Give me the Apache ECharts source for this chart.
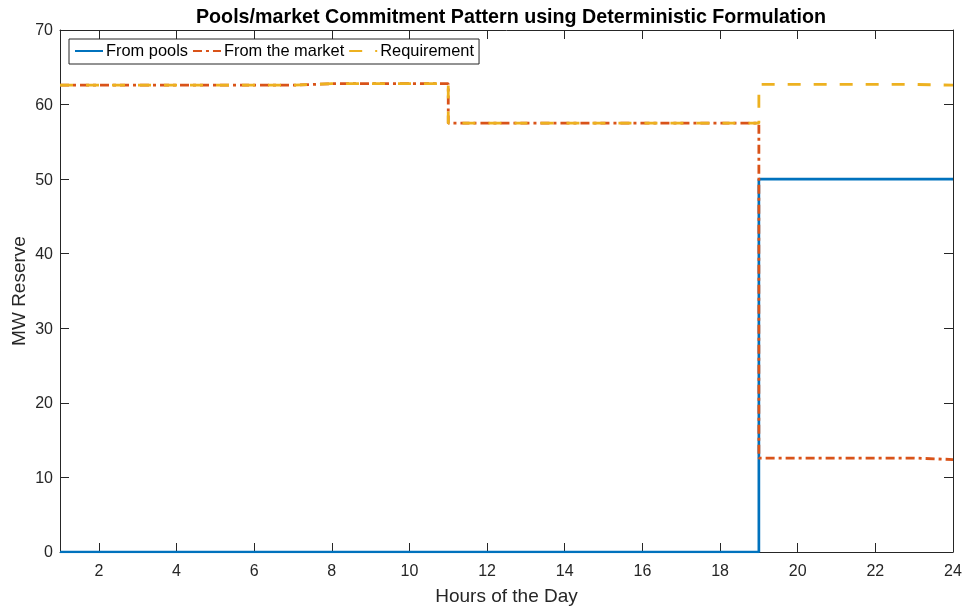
<!DOCTYPE html>
<html><head><meta charset="utf-8">
<script src="https://cdn.jsdelivr.net/npm/echarts@6/dist/echarts.min.js"></script>
<style>html,body{margin:0;padding:0;background:#fff}#c{width:967px;height:611px}</style>
</head><body><div id="c"></div>
<script>
const hours = [1,2,3,4,5,6,7,8,9,10,11,12,13,14,15,16,17,18,19,20,21,22,23,24];
const fromPools = [0,0,0,0,0,0,0,0,0,0,0,0,0,0,0,0,0,0,50,50,50,50,50,50];
const fromMarket = [62.6,62.6,62.6,62.6,62.6,62.6,62.8,62.8,62.8,62.8,57.5,57.5,57.5,57.5,57.5,57.5,57.5,57.5,12.6,12.6,12.6,12.6,12.4,12.4];
const requirement = [62.6,62.6,62.6,62.6,62.6,62.6,62.8,62.8,62.8,62.8,57.5,57.5,57.5,57.5,57.5,57.5,57.5,57.5,62.7,62.7,62.7,62.7,62.6,62.6];
const xTicks = [2,4,6,8,10,12,14,16,18,20,22,24];
const seriesNames = ['From pools','From the market','Requirement'];

const pair = arr => hours.map((h,i)=>[h,arr[i]]);
const txt = '#262626';
const font = 'Liberation Sans';
const chart = echarts.init(document.getElementById('c'));
chart.setOption({
  animation:false,
  textStyle:{fontFamily:font},
  title:{text:'Pools/market Commitment Pattern using Deterministic Formulation',left:506,textAlign:'center',top:3,
    textStyle:{fontFamily:font,fontWeight:'bold',fontSize:19.7,color:'#000'}},
  legend:{left:69,top:39,orient:'horizontal',itemWidth:28,itemHeight:12,itemGap:4,
    padding:[4,5,5,5],borderColor:txt,borderWidth:1,backgroundColor:'#fff',
    itemStyle:{opacity:0},
    textStyle:{fontFamily:font,fontSize:16.4,color:'#000',padding:[0,0,0,-2]},
    data:seriesNames},
  grid:{left:60,right:14,top:30,bottom:59,containLabel:false,outerBoundsMode:'none'},
  xAxis:[{type:'value',min:1,max:24,position:'bottom',
    name:'Hours of the Day',nameLocation:'middle',nameGap:35,nameMoveOverlap:false,nameTextStyle:{fontSize:19,color:txt,fontFamily:font},
    axisLine:{show:true,onZero:false,lineStyle:{color:txt,width:1}},
    axisTick:{show:true,inside:true,length:9,customValues:xTicks,lineStyle:{color:txt}},
    axisLabel:{fontSize:16,color:txt,margin:12,customValues:xTicks,fontFamily:font},
    splitLine:{show:false}},
   {type:'value',min:1,max:24,position:'top',
    axisLine:{show:true,onZero:false,lineStyle:{color:txt,width:1}},
    axisTick:{show:true,inside:true,length:9,customValues:xTicks,lineStyle:{color:txt}},
    axisLabel:{show:false},splitLine:{show:false}}],
  yAxis:[{type:'value',min:0,max:70,interval:10,position:'left',
    name:'MW Reserve',nameLocation:'middle',nameGap:31,nameMoveOverlap:false,nameTextStyle:{fontSize:19,color:txt,fontFamily:font},
    axisLine:{show:true,onZero:false,lineStyle:{color:txt,width:1}},
    axisTick:{show:true,inside:true,length:9,lineStyle:{color:txt}},
    axisLabel:{fontSize:16,color:txt,margin:7,fontFamily:font,verticalAlign:'top',padding:[-7,0,0,0]},
    splitLine:{show:false}},
   {type:'value',min:0,max:70,interval:10,position:'right',
    axisLine:{show:true,onZero:false,lineStyle:{color:txt,width:1}},
    axisTick:{show:true,inside:true,length:9,lineStyle:{color:txt}},
    axisLabel:{show:false},splitLine:{show:false}}],
  series:[
    {name:seriesNames[0],type:'line',step:'end',symbol:'none',data:pair(fromPools),
      lineStyle:{color:'#0072BD',width:2.7},itemStyle:{color:'#0072BD'}},
    {name:seriesNames[1],type:'line',step:'end',symbol:'none',data:pair(fromMarket),
      lineStyle:{color:'#D95319',width:2.8,type:[9,4,3,4]},itemStyle:{color:'#D95319'}},
    {name:seriesNames[2],type:'line',step:'end',symbol:'none',data:pair(requirement),
      lineStyle:{color:'#EDB120',width:2.8,type:[13,13]},itemStyle:{color:'#EDB120'}}
  ]
});
</script></body></html>
